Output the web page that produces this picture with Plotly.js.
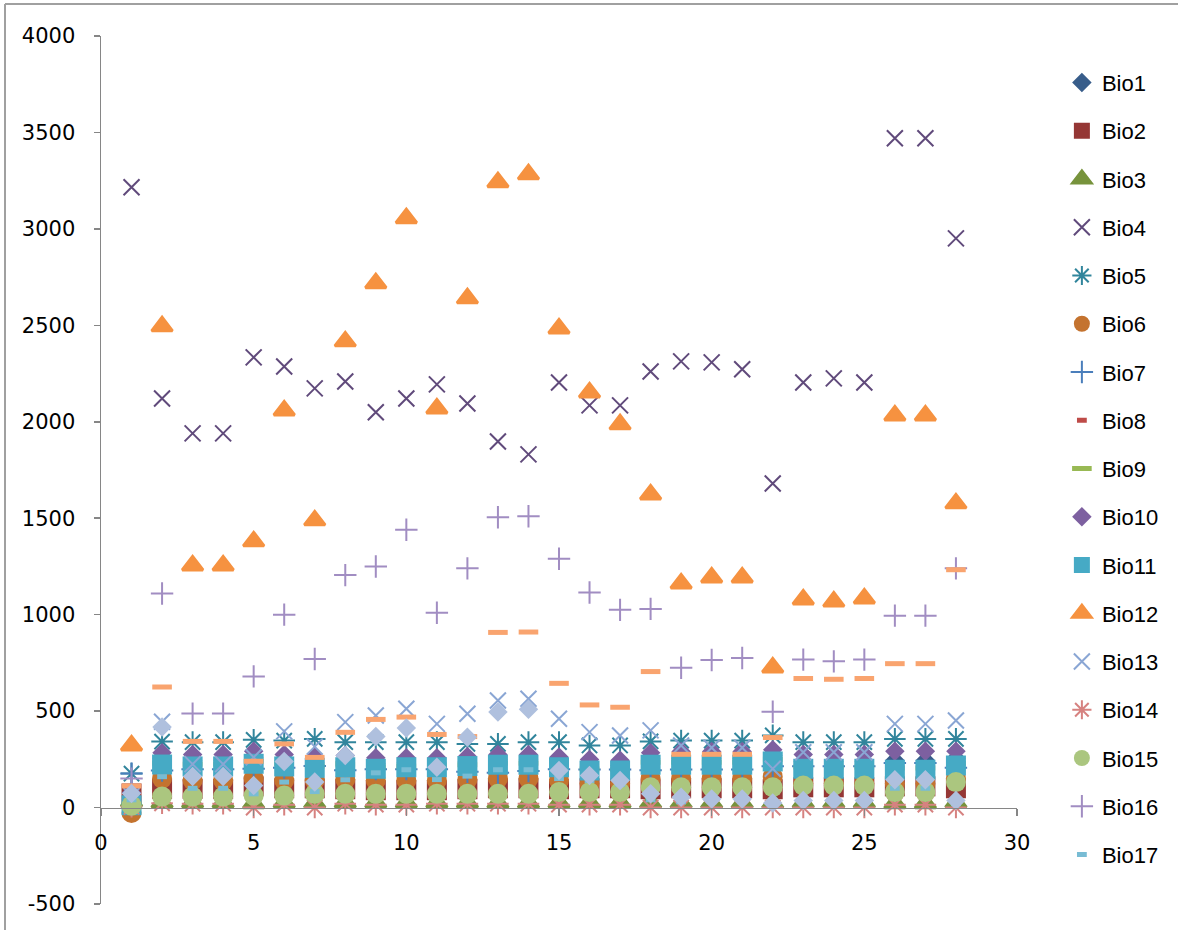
<!DOCTYPE html>
<html><head><meta charset="utf-8">
<script src="https://cdn.plot.ly/plotly-3.0.1.min.js"></script>
<style>html,body{margin:0;padding:0;background:#fff}#chart{width:1178px;height:930px}</style>
</head><body><div id="chart"></div>
<script>
const sites = [1,2,3,4,5,6,7,8,9,10,11,12,13,14,15,16,17,18,19,20,21,22,23,24,25,26,27,28];
const seriesNames = ["Bio1","Bio2","Bio3","Bio4","Bio5","Bio6","Bio7","Bio8","Bio9","Bio10","Bio11","Bio12","Bio13","Bio14","Bio15","Bio16","Bio17","Bio18","Bio19"];
const yTickVals = [-500,0,500,1000,1500,2000,2500,3000,3500,4000];
const yTickText = ["-500","0","500","1000","1500","2000","2500","3000","3500","4000"];
const xTickVals = [0,5,10,15,20,25,30];
const xTickText = ["0","5","10","15","20","25","30"];

const bio1  = [40,255,245,245,260,245,235,240,230,235,235,240,250,250,235,220,218,253,256,256,256,270,238,238,238,245,245,255];
const bio2  = [73,97,97,97,110,100,100,95,90,90,90,95,100,100,95,100,100,95,100,100,100,95,105,105,105,110,110,100];
const bio3  = [30,25,26,26,22,25,24,25,26,26,25,25,24,24,25,26,26,24,24,24,24,23,25,25,25,22,22,25];
const bio4  = [3216,2121,1940,1940,2334,2287,2173,2209,2049,2121,2194,2095,1898,1831,2204,2085,2085,2261,2313,2308,2272,1680,2204,2225,2204,3470,3470,2951];
const bio5  = [176,342,339,339,351,347,356,339,339,339,339,330,330,339,339,322,322,343,347,347,347,374,339,339,339,356,356,356];
const bio6  = [-28,150,140,140,150,140,140,145,140,140,140,145,150,150,140,125,125,150,150,150,150,160,125,125,125,125,125,150];
const bio7  = [176,192,199,199,201,207,216,194,199,199,199,185,180,189,199,197,197,193,197,197,197,214,214,214,214,231,231,206];
const bio8  = [60,270,262,262,280,265,255,262,250,250,250,258,268,268,255,240,238,275,280,280,280,290,265,265,265,280,280,282];
const bio9  = [20,230,225,225,240,228,215,225,210,215,218,222,230,230,218,200,198,235,235,235,235,250,210,210,210,205,205,228];
const bio10 = [78,284,275,275,292,275,262,270,258,258,258,265,275,275,262,249,245,284,290,290,290,300,275,275,275,292,292,292];
const bio11 = [12,223,213,213,227,213,206,209,201,209,209,215,222,222,209,192,192,222,222,222,222,239,201,201,201,196,196,218];
const bio12 = [322,2495,1255,1255,1380,2059,1489,2417,2718,3055,2069,2640,3242,3283,2484,2152,1987,1623,1162,1193,1193,726,1079,1068,1084,2033,2033,1577];
const bio13 = [60,445,225,225,261,395,316,443,477,512,434,486,555,564,460,391,374,400,322,310,310,201,287,287,287,434,434,451];
const bio14 = [5,22,20,20,0,15,0,20,15,15,20,20,20,20,15,15,15,0,0,0,0,0,0,0,0,15,15,0];
const bio15 = [10,57,57,57,62,62,71,71,71,71,71,71,71,71,80,80,80,105,105,105,105,105,114,114,114,80,80,132];
const bio16 = [150,1110,487,487,680,1000,770,1205,1250,1440,1010,1240,1505,1510,1290,1115,1025,1030,725,765,775,497,767,758,767,995,995,1240];
const bio17 = [40,160,100,100,71,132,83,144,180,196,145,163,196,196,150,140,120,40,30,30,30,20,25,25,25,100,100,20];
const bio18 = [112,625,343,343,240,330,260,390,457,469,379,368,908,910,644,532,520,705,276,276,276,363,669,665,669,746,746,1233];
const bio19 = [73,417,161,161,114,239,132,270,369,412,209,365,495,510,192,166,140,71,54,45,45,23,36,36,36,144,144,36];

const values = [bio1,bio2,bio3,bio4,bio5,bio6,bio7,bio8,bio9,bio10,bio11,bio12,bio13,bio14,bio15,bio16,bio17,bio18,bio19];

// marker styles (Excel 2007 default cycle)
const styles = [
  {symbol:'diamond', size:15, color:'#385D8A'},
  {symbol:'square', size:20, color:'#953735'},
  {symbol:'triangle-up', size:18, color:'#77933C', lw:3},
  {symbol:'x-thin-open', size:16, color:'#604A7B', lw:2},
  {symbol:'asterisk-open', size:18, color:'#31859C', lw:2},
  {symbol:'circle', size:20, color:'#C4732F'},
  {symbol:'cross-thin-open', size:16, color:'#4A7EBB', lw:2},
  {symbol:'line-ew-open', size:7, color:'#BE4B48', lw:5},
  {symbol:'line-ew-open', size:14, color:'#98B954', lw:5},
  {symbol:'diamond', size:15, color:'#7D60A0'},
  {symbol:'square', size:20, color:'#46AAC5'},
  {symbol:'triangle-up', size:18, color:'#F69240', lw:3},
  {symbol:'x-thin-open', size:16, color:'#8AA6D4', lw:2},
  {symbol:'asterisk-open', size:18, color:'#D68280', lw:2},
  {symbol:'circle', size:20, color:'#ABC67F'},
  {symbol:'cross-thin-open', size:16, color:'#A18DC2', lw:2},
  {symbol:'line-ew-open', size:7, color:'#78BCD4', lw:5},
  {symbol:'line-ew-open', size:14, color:'#F9A46F', lw:5},
  {symbol:'diamond', size:15, color:'#AFC0DE'}
];

const traces = values.map((v, i) => {
  const s = styles[i];
  return {
    type: 'scatter', mode: 'markers', name: seriesNames[i],
    x: sites, y: v,
    legendgroup: 'g' + i,
    showlegend: i < 17,
    marker: {symbol: s.symbol, size: s.size, color: s.color,
             line: {color: s.color, width: s.lw || 0}},
    cliponaxis: false
  };
});

const tickFont = {family: 'DejaVu Sans, Verdana, sans-serif', size: 21, color: '#000'};
const layout = {
  width: 1178, height: 930,
  margin: {l: 101, r: 161, t: 36, b: 26, autoexpand: false},
  paper_bgcolor: '#fff', plot_bgcolor: '#fff',
  showlegend: true,
  xaxis: {
    range: [0, 30], tickmode: 'array', tickvals: xTickVals, ticktext: xTickText,
    showgrid: false, zeroline: false,
    showline: true, linecolor: '#868686', linewidth: 1.5,
    ticks: 'outside', ticklen: 7, tickcolor: '#868686', tickwidth: 1.5,
    anchor: 'free', position: 500/4500,
    tickfont: tickFont, ticklabelstandoff: 9
  },
  yaxis: {
    range: [-500, 4000], tickmode: 'array', tickvals: yTickVals, ticktext: yTickText,
    showgrid: false, zeroline: false,
    showline: true, linecolor: '#868686', linewidth: 1.5,
    ticks: 'outside', ticklen: 6, tickcolor: '#868686', tickwidth: 1.5,
    tickfont: tickFont, ticklabelstandoff: 14
  },
  legend: {
    x: 1.049, xanchor: 'left', y: 0.9704, yanchor: 'top',
    font: {family: 'Liberation Sans, Arial, sans-serif', size: 22, color: '#000'},
    tracegroupgap: 16.65, bgcolor: 'rgba(0,0,0,0)', borderwidth: 0
  },
  shapes: [
    {type: 'line', xref: 'paper', yref: 'paper', x0: -96/916, x1: -96/916, y0: -26/868, y1: 1 + 32/868,
     line: {color: '#A0A0A0', width: 2}},
    {type: 'line', xref: 'paper', yref: 'paper', x0: -96/916, x1: 1 + 161/916, y0: 1 + 32/868, y1: 1 + 32/868,
     line: {color: '#A0A0A0', width: 2}}
  ]
};

Plotly.newPlot('chart', traces, layout, {staticPlot: true});
</script>
</body></html>
